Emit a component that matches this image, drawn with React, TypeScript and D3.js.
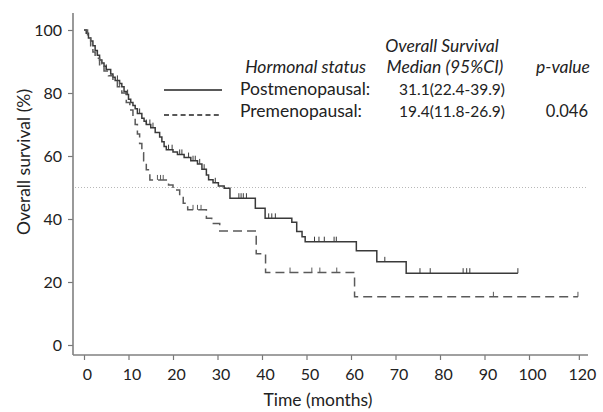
import { useEffect, useRef } from "react";
import * as d3 from "d3";

// Kaplan-Meier steps: time (months) and survival (%) after each drop
const postStepTimes = [0, 0.5, 1, 1.5, 2, 2.5, 3, 3.5, 4, 4.5, 5, 6, 6.5, 7, 8, 8.5, 9, 9.5, 10, 10.5, 11, 11.5, 12, 13, 13.5, 14, 15, 16, 17, 17.5, 18, 18.5, 20, 21, 22.5, 24, 25.5, 26.5, 27.5, 28, 29, 30.2, 31.5, 32.8, 38.5, 40.7, 46.7, 47.8, 49, 49.7, 61.2, 65.8, 72.4];
const postStepSurvival = [100, 99, 97.5, 96.5, 95, 93.5, 92, 90.5, 89.5, 88.5, 87.5, 86, 85, 84, 83, 82, 80.5, 79.5, 78, 77, 76, 75, 73.5, 72, 71, 70, 69, 67.5, 66, 64.5, 63, 62, 61.3, 60.5, 59.5, 58.5, 57.5, 55.8, 54, 52.5, 51.5, 50.5, 49.8, 46.6, 43.4, 40.2, 39, 36, 34.4, 32.8, 29.9, 26.4, 22.8];
const postCensorTimes = [3, 5, 7.5, 9.8, 12.5, 14, 14.8, 15.5, 19, 19.8, 21.5, 22, 23.5, 24.5, 25, 26, 27, 29.5, 34.8, 35.3, 35.8, 36.5, 41.5, 42.2, 43, 51.8, 52.8, 54, 56.2, 56.7, 67.6, 75.5, 77.8, 85.2, 86, 86.7, 97.5];
const postEndTime = 97.5;

const preStepTimes = [0, 0.8, 1.5, 2, 2.5, 3.5, 4.5, 5.5, 6.5, 7.5, 8.5, 9.5, 10.3, 11, 11.5, 12, 12.5, 13, 13.4, 14, 14.8, 19, 20, 21.5, 22.3, 23.3, 27.5, 28.7, 30.5, 38.7, 40.8, 60.8];
const preStepSurvival = [100, 98, 95, 93, 91, 89, 87, 85.5, 84, 82, 80, 77, 74.6, 72, 70, 67, 64, 61, 58.5, 55.6, 52.4, 50.8, 49.2, 47.1, 45, 42.9, 40.2, 38.6, 36.2, 29, 23, 15.3];
const preCensorTimes = [4, 8, 16.5, 17.2, 17.8, 24.5, 25.5, 26.3, 46.3, 51.2, 53, 56.8, 92, 111];
const preEndTime = 111;

const yTickValues = [0, 20, 40, 60, 80, 100];
const xTickValues = [0, 10, 20, 30, 40, 50, 60, 70, 80, 90, 100, 111.2];
const xTickLabels = ["0", "10", "20", "30", "40", "50", "60", "70", "80", "90", "100", "120"];

const legendRows = [
  { name: "Postmenopausal:", median: "31.1(22.4-39.9)", p: "", dash: null },
  { name: "Premenopausal:", median: "19.4(11.8-26.9)", p: "0.046", dash: "5,3.3" },
];

const FONT = "Lato, 'Open Sans', sans-serif";

export default function App() {
  const ref = useRef<SVGSVGElement>(null);

  useEffect(() => {
    const svg = d3.select(ref.current);
    svg.selectAll("*").remove();

    const left = 73, right = 588, top = 13, bottom = 355;
    const x = d3.scaleLinear().domain([0, 100]).range([84, 529]);
    const y = d3.scaleLinear().domain([0, 100]).range([345, 30]);

    // 50% reference line
    svg.append("line")
      .attr("x1", left + 2).attr("x2", right)
      .attr("y1", y(50)).attr("y2", y(50))
      .attr("stroke", "#b8b8b8").attr("stroke-width", 1)
      .attr("stroke-dasharray", "1,2");

    // axes
    const xAxis = svg.append("g")
      .attr("transform", `translate(0,${bottom})`)
      .call(d3.axisBottom(x).tickValues(xTickValues)
        .tickFormat((_, i) => xTickLabels[i]).tickSize(5).tickPadding(9));
    const yAxis = svg.append("g")
      .attr("transform", `translate(${left},0)`)
      .call(d3.axisLeft(y).tickValues(yTickValues).tickSize(5).tickPadding(6));

    [xAxis, yAxis].forEach((g) => {
      g.select(".domain").remove();
      g.selectAll("line").attr("stroke", "#777").attr("stroke-width", 1.2);
      g.selectAll("text").attr("font-family", FONT).attr("font-size", 16).attr("fill", "#222");
    });
    xAxis.selectAll("text").attr("dx", 3);

    svg.append("line")
      .attr("x1", left).attr("x2", left).attr("y1", top).attr("y2", bottom)
      .attr("stroke", "#808080").attr("stroke-width", 1.6);
    svg.append("line")
      .attr("x1", left).attr("x2", right).attr("y1", bottom).attr("y2", bottom)
      .attr("stroke", "#808080").attr("stroke-width", 1.6);

    // curves
    const series = [
      { times: postStepTimes, surv: postStepSurvival, censor: postCensorTimes, end: postEndTime, color: "#3a3a3a", dash: null },
      { times: preStepTimes, surv: preStepSurvival, censor: preCensorTimes, end: preEndTime, color: "#5a5a5a", dash: "9,5" },
    ];
    const line = d3.line<[number, number]>()
      .x((d) => x(d[0])).y((d) => y(d[1]))
      .curve(d3.curveStepAfter);

    series.forEach((s) => {
      const pts: [number, number][] = s.times.map((t, i) => [t, s.surv[i]]);
      pts.push([s.end, s.surv[s.surv.length - 1]]);
      svg.append("path")
        .attr("d", line(pts))
        .attr("fill", "none")
        .attr("stroke", s.color)
        .attr("stroke-width", 1.5)
        .attr("stroke-dasharray", s.dash);

      const survAt = (t: number) => {
        let v = 100;
        s.times.forEach((tt, i) => { if (tt <= t) v = s.surv[i]; });
        return v;
      };
      svg.append("g").selectAll("line")
        .data(s.censor)
        .join("line")
        .attr("x1", (d) => x(d)).attr("x2", (d) => x(d))
        .attr("y1", (d) => y(survAt(d))).attr("y2", (d) => y(survAt(d)) - 5)
        .attr("stroke", s.color).attr("stroke-width", 1);
    });

    // axis titles
    svg.append("text")
      .attr("x", 318).attr("y", 406)
      .attr("text-anchor", "middle")
      .attr("font-family", FONT).attr("font-size", 17.5).attr("fill", "#222")
      .text("Time (months)");
    svg.append("text")
      .attr("transform", `translate(30,162) rotate(-90)`)
      .attr("text-anchor", "middle")
      .attr("font-family", FONT).attr("font-size", 17.5).attr("fill", "#222")
      .text("Overall survival (%)");

    // legend table
    const lg = svg.append("g").attr("font-family", FONT).attr("font-size", 17.5).attr("fill", "#222");
    lg.append("text").attr("x", 442).attr("y", 52).attr("text-anchor", "middle")
      .attr("font-style", "italic").text("Overall Survival");
    lg.append("text").attr("x", 366).attr("y", 73).attr("text-anchor", "end")
      .attr("font-style", "italic").text("Hormonal status");
    lg.append("text").attr("x", 445).attr("y", 73).attr("text-anchor", "middle")
      .attr("font-style", "italic").text("Median (95%CI)");
    lg.append("text").attr("x", 590).attr("y", 73).attr("text-anchor", "end")
      .attr("font-style", "italic").text("p-value");

    legendRows.forEach((r, i) => {
      const ry = 95 + i * 22;
      lg.append("line")
        .attr("x1", 164).attr("x2", 222)
        .attr("y1", ry - 5 + i * 3).attr("y2", ry - 5 + i * 3)
        .attr("stroke", "#222").attr("stroke-width", 1.6)
        .attr("stroke-dasharray", r.dash);
      lg.append("text").attr("x", 240).attr("y", ry).text(r.name);
      lg.append("text").attr("x", 505).attr("y", ry).attr("text-anchor", "end")
        .attr("font-size", 15.5).text(r.median);
      lg.append("text").attr("x", 588).attr("y", ry).attr("text-anchor", "end")
        .attr("font-size", 16.5).text(r.p);
    });
  }, []);

  return (
    <svg
      ref={ref}
      width={603}
      height={412}
      style={{ position: "absolute", left: 0, top: 0, background: "#fff" }}
    />
  );
}
